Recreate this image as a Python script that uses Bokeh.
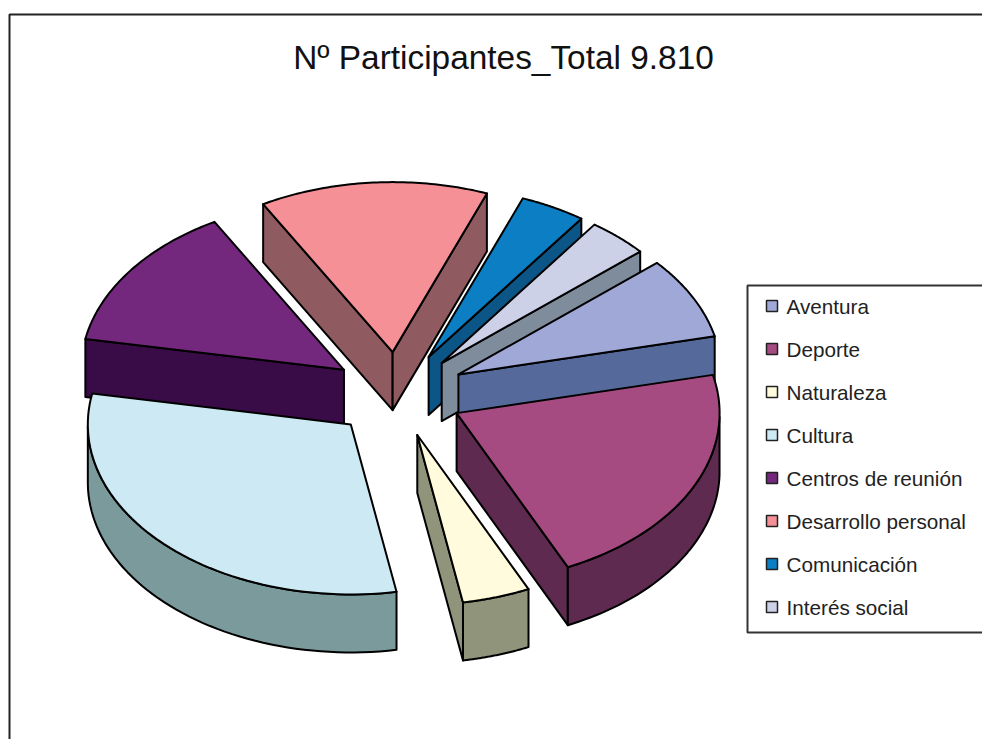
import math
from bokeh.plotting import figure
from bokeh.models import ColumnDataSource, Range1d
from bokeh.core.properties import value
from bokeh.embed import file_html
from bokeh.resources import INLINE

title = "Nº Participantes_Total 9.810"
categories = ["Aventura", "Deporte", "Naturaleza", "Cultura", "Centros de reunión",
              "Desarrollo personal", "Comunicación", "Interés social"]
participants = [763, 2125, 409, 3011, 1363, 1376, 395, 368]
explosion = [0.26, 0.25, 0.25, 0.25, 0.25, 0.25, 0.25, 0.25]
top_colors = ["#9FA8D6", "#A64B82", "#FFFBDC", "#CDE9F3", "#73287D", "#F59097", "#0B7EC4", "#CDD1E8"]
wall_colors = ["#56699B", "#5E2A50", "#8F947A", "#7A9A9C", "#3A0C47", "#8F5A60", "#0B5686", "#7F8C9C"]

CX, CY, RX, RY, DEPTH, START = 397, 394, 263, 170, 58, 41.0

p = figure(width=982, height=739, output_backend="svg", toolbar_location=None,
           x_range=Range1d(0, 982), y_range=Range1d(739, 0),
           min_border=0, outline_line_color=None)
p.axis.visible = False
p.grid.visible = False

total = sum(participants)
slices = []
a = START
for i, v in enumerate(participants):
    sweep = v / total * 360
    a1, a2 = a, a - sweep          # clockwise
    a = a2
    m = math.radians((a1 + a2) / 2)
    ax = CX + explosion[i] * RX * math.cos(m)
    ay = CY - explosion[i] * RY * math.sin(m)
    slices.append((ay, i, ax, a1, a2))
slices.sort()

xs, ys, fills = [], [], []
def add(px, py, c):
    xs.append(px); ys.append(py); fills.append(c)

for ay, i, ax, a1, a2 in slices:
    n = 60
    angs = [math.radians(a1 + (a2 - a1) * k / n) for k in range(n + 1)]
    rim_x = [ax + RX * math.cos(t) for t in angs]
    rim_y = [ay - RY * math.sin(t) for t in angs]
    # radial walls that face the viewer
    if math.cos(angs[0]) < 0:
        add([ax, rim_x[0], rim_x[0], ax], [ay, rim_y[0], rim_y[0] + DEPTH, ay + DEPTH], wall_colors[i])
    if math.cos(angs[-1]) > 0:
        add([ax, rim_x[-1], rim_x[-1], ax], [ay, rim_y[-1], rim_y[-1] + DEPTH, ay + DEPTH], wall_colors[i])
    # outer wall: front-facing part of the rim only
    front = [(x, y) for x, y, t in zip(rim_x, rim_y, angs) if math.sin(t) <= 0]
    if len(front) > 1:
        fx = [q[0] for q in front]
        fy = [q[1] for q in front]
        add(fx + fx[::-1], fy + [y + DEPTH for y in fy[::-1]], wall_colors[i])
    # top face
    add([ax] + rim_x, [ay] + rim_y, top_colors[i])

p.patches("xs", "ys", source=ColumnDataSource(dict(xs=xs, ys=ys, fill=fills)),
          fill_color="fill", line_color="black", line_width=2, line_join="round")

# outer frame
p.line([982, 9, 9], [14, 14, 739], line_color="#222222", line_width=2)

# title
p.text([503], [57], text=[title], text_font=value("Liberation Sans"), text_font_size="33.4px",
       text_color="#111111", text_align="center", text_baseline="middle")

# legend
LEFT, TOP, BOTTOM, ROW0, STEP = 747, 285, 632, 305.5, 43.0
p.line([982, LEFT, LEFT, 982], [TOP, TOP, BOTTOM, BOTTOM], line_color="#333333", line_width=2)
rows = [ROW0 + k * STEP for k in range(len(categories))]
p.rect([771.5] * len(rows), rows, width=11, height=11, fill_color=top_colors,
       line_color="#222222", line_width=1.5)
p.text([786] * len(rows), rows, text=categories, text_font=value("Liberation Sans"),
       text_font_size="20.7px", text_color="#222222", text_align="left", text_baseline="middle")

open("out.html", "w").write(file_html(p, INLINE))
